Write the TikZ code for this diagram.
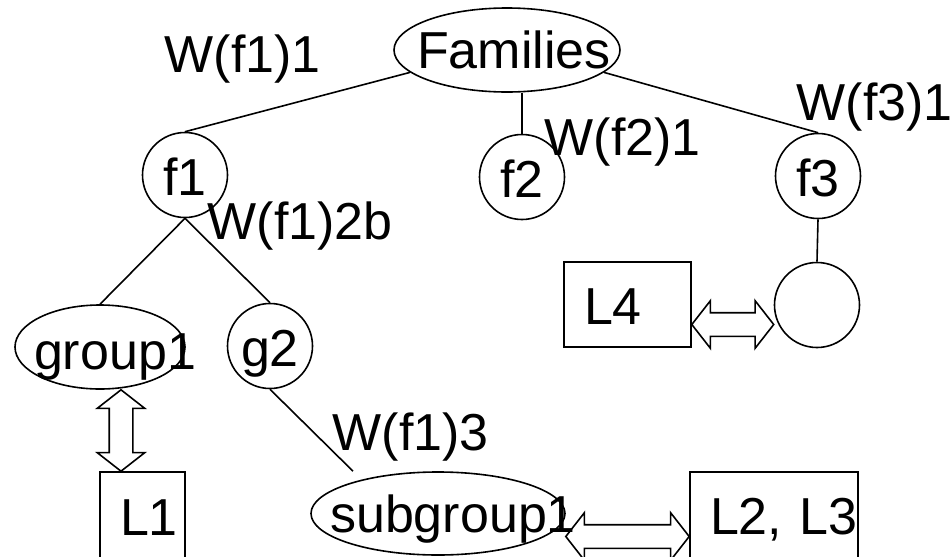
\documentclass[tikz,border=0pt]{standalone}
\usepackage{fontspec}
\setmainfont{Liberation Sans}
\usetikzlibrary{shapes.geometric, shapes.arrows, calc}

\tikzset{
	vertex/.style={draw, circle, minimum size=85pt, inner sep=0pt, text height=40pt, text depth=0pt},
	group/.style={draw, ellipse, minimum width=#1, minimum height=84pt, inner sep=0pt, text height=40pt, text depth=0pt},
	leaf/.style={draw, rectangle, text width=#1, align=left, minimum height=85pt, inner sep=0pt, text height=40pt, text depth=0pt},
	weight/.style={anchor=base west, inner sep=0pt},
	link/.style={double arrow, draw, inner xsep=0pt, inner ysep=11pt, minimum width=46pt, double arrow head extend=12pt, double arrow tip angle=104}
}

% text pushed right inside a node of fixed size
\newcommand{\offtext}[2]{\makebox[0pt]{\hspace{#1}#2}}
% hollow double arrow between two points
\newcommand{\hollowlink}[2]{%
	\path let \p1=($(#2)-(#1)$) in ($(#1)!0.5!(#2)$)
		node[link, minimum height={veclen(\x1,\y1)}, rotate={atan2(\y1,\x1)}] {};}

\begin{document}
\begin{tikzpicture}[x=1pt, y=-1pt, line width=1.6pt, font=\fontsize{52pt}{62pt}\selectfont]
	\useasboundingbox (0,0) rectangle (951,557);

	\node[group=226pt, text height=36pt] (fam) at (507,50) {\offtext{14pt}{Families}};
	\node[vertex] (f1) at (185,175) {f1};
	\node[vertex] (f2) at (522,177) {f2};
	\node[vertex] (f3) at (818,176) {f3};
	\node[vertex] (c3) at (817,305) {};
	\node[group=170pt, text height=44pt] (grp1) at (100,347) {\offtext{30pt}{group1}};
	\node[vertex] (g2) at (270,346) {g2};
	\node[group=254pt, minimum height=83pt, text height=37pt] (sub1) at (438,513.5) {\offtext{30pt}{subgroup1}};
	\node[leaf=85pt, minimum height=90pt, text height=36pt] (L1) at (142.5,517) {\hspace*{20pt}L1};
	\node[leaf=127pt] (L4) at (627.5,304.5) {\hspace*{20pt}L4};
	\node[leaf=168pt, minimum height=90pt, text height=34pt] (L23) at (774,517) {\hspace*{20pt}L2, L3};

	\node[weight] (w11) at (164,72) {W(f1)1};
	\node[weight] (w21) at (544,155) {W(f2)1};
	\node[weight] (w31) at (796,120) {W(f3)1};
	\node[weight] (w12) at (207,239) {W(f1)2b};
	\node[weight] (w13) at (332,450) {W(f1)3};

	\coordinate (w13end) at ($(sub1.north)+(-85,0)$);
	\coordinate (ga) at ($(grp1.south)+(21,0)$);
	\coordinate (gb) at (ga |- L1.north);
	\coordinate (la) at ($(L4.east)+(0,20)$);
	\coordinate (lb) at (la -| c3.west);
	\coordinate (sa) at ($(sub1.east)+(0,23)$);
	\coordinate (sb) at (sa -| L23.west);

	\path (fam.193) edge (f1.north);
	\path (fam.south -| f2.north) edge (f2.north);
	\path (fam.347) edge (f3.north);
	\path (f1.south) edge (grp1.north);
	\path (f1.south) edge (g2.north);
	\path (g2.south) edge (w13end);
	\path (f3.south) edge (c3.north);

	\hollowlink{ga}{gb}
	\hollowlink{la}{lb}
	\hollowlink{sa}{sb}
\end{tikzpicture}
\end{document}
